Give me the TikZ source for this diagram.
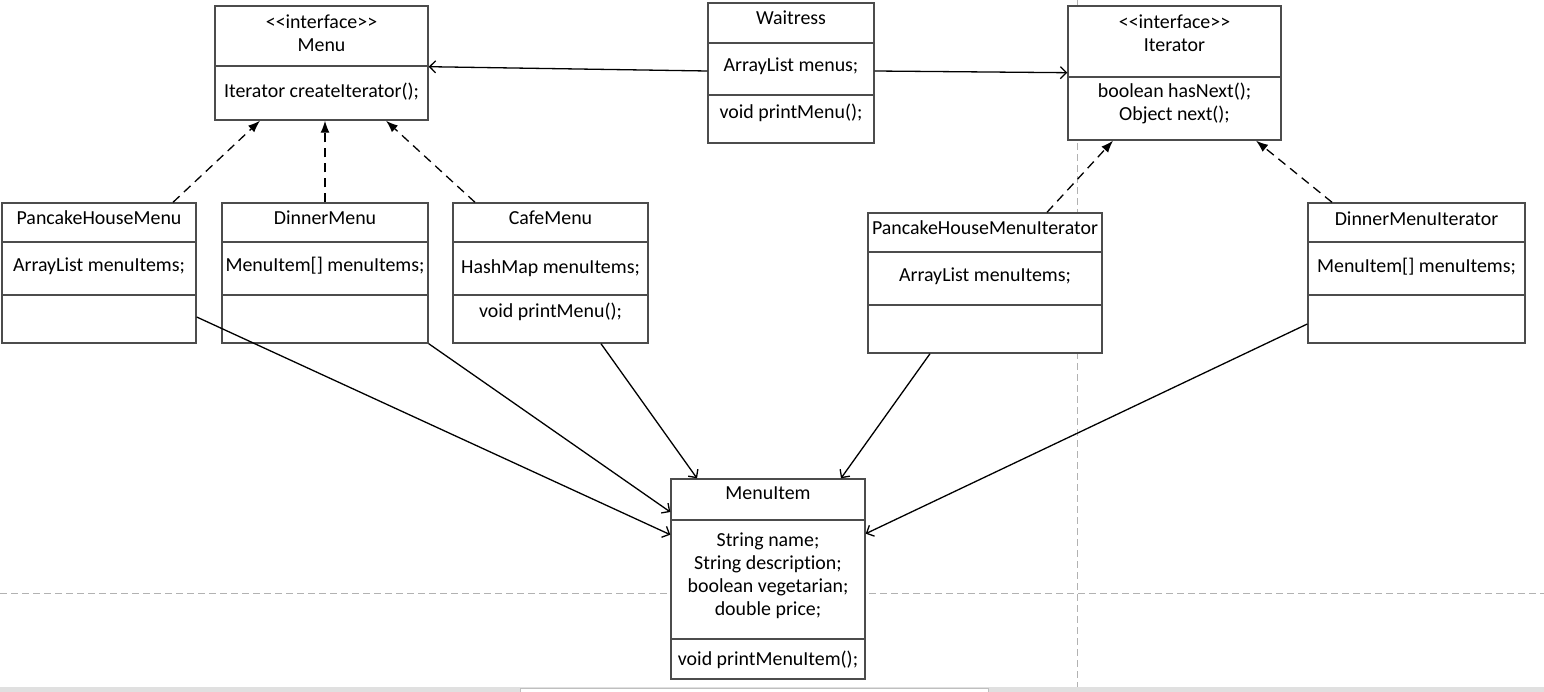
\documentclass[tikz,border=0pt]{standalone}
\usepackage{fontspec}
\setmainfont{Carlito}[Ligatures = NoCommon]
\usetikzlibrary{arrows.meta}

\tikzset{
  cls/.style = {draw = black!70, line width = 1.4pt, fill = white, inner sep = 0pt},
  txt/.style = {inner sep = 0pt, align = center},
  realize/.style = {draw, line width = 1.3pt, dash pattern = on 9pt off 6pt, -{Latex[length = 12pt, width = 9pt]}},
  assoc/.style = {draw, line width = 1.3pt, -{Straight Barb[length = 6pt, width = 12pt]}},
  pagebreak/.style = {draw = black!30, line width = 1pt, dash pattern = on 7pt off 4pt}
}

\begin{document}
\begin{tikzpicture}[x = 1pt, y = -1pt, font = \fontsize{19.9}{23}\selectfont]
\useasboundingbox (0, 0) rectangle (1544, 692);

% page breaks of the drawing sheet
\path [pagebreak] (1077, 0) -- (1077, 687);
\path [pagebreak] (0, 593) -- (1544, 593);
\fill [black!12] (0, 687) rectangle (1544, 692);
\filldraw [fill = white, draw = black!25] (520, 688) rectangle (988, 695);

% Menu
\node [cls, minimum width = 213pt, minimum height = 60pt] (menu0) at (321.5, 36) {};
\node [cls, minimum width = 213pt, minimum height = 54pt] (menu1) at (321.5, 93) {};
\node [txt] (menut0) at (321.5, 33) {<\kern0pt<interface>\kern0pt>\\Menu};
\node [txt] (menut1) at (321.5, 92) {Iterator createIterator();};

% Waitress
\node [cls, minimum width = 166pt, minimum height = 40pt] (wait0) at (791, 23) {};
\node [cls, minimum width = 166pt, minimum height = 52pt] (wait1) at (791, 69) {};
\node [cls, minimum width = 166pt, minimum height = 48pt] (wait2) at (791, 119) {};
\node [txt] (waitt0) at (791, 18) {Waitress};
\node [txt] (waitt1) at (791, 66) {ArrayList menus;};
\node [txt] (waitt2) at (791, 113) {void printMenu();};

% Iterator
\node [cls, minimum width = 213pt, minimum height = 71pt] (iter0) at (1174.5, 41.5) {};
\node [cls, minimum width = 213pt, minimum height = 63pt] (iter1) at (1174.5, 108.5) {};
\node [txt] (itert0) at (1174.5, 33) {<\kern0pt<interface>\kern0pt>\\Iterator};
\node [txt] (itert1) at (1174.5, 103.5) {boolean hasNext();\\Object next();};

% PancakeHouseMenu
\node [cls, minimum width = 194pt, minimum height = 39pt] (phm0) at (99, 222.5) {};
\node [cls, minimum width = 194pt, minimum height = 53pt] (phm1) at (99, 268.5) {};
\node [cls, minimum width = 194pt, minimum height = 48pt] (phm2) at (99, 319) {};
\node [txt] (phmt0) at (99, 218) {PancakeHouseMenu};
\node [txt] (phmt1) at (99, 266) {ArrayList menuItems;};

% DinnerMenu
\node [cls, minimum width = 206pt, minimum height = 39pt] (dm0) at (325, 222.5) {};
\node [cls, minimum width = 206pt, minimum height = 53pt] (dm1) at (325, 268.5) {};
\node [cls, minimum width = 206pt, minimum height = 48pt] (dm2) at (325, 319) {};
\node [txt] (dmt0) at (325, 218) {DinnerMenu};
\node [txt] (dmt1) at (325, 266) {MenuItem[] menuItems;};

% CafeMenu
\node [cls, minimum width = 195pt, minimum height = 39pt] (cafe0) at (550.5, 222.5) {};
\node [cls, minimum width = 195pt, minimum height = 53pt] (cafe1) at (550.5, 268.5) {};
\node [cls, minimum width = 195pt, minimum height = 48pt] (cafe2) at (550.5, 319) {};
\node [txt] (cafet0) at (550.5, 218) {CafeMenu};
\node [txt] (cafet1) at (550.5, 268) {HashMap menuItems;};
\node [txt] (cafet2) at (550.5, 312) {void printMenu();};

% PancakeHouseMenuIterator
\node [cls, minimum width = 234pt, minimum height = 39pt] (phmi0) at (985, 232.5) {};
\node [cls, minimum width = 234pt, minimum height = 53pt] (phmi1) at (985, 278.5) {};
\node [cls, minimum width = 234pt, minimum height = 48pt] (phmi2) at (985, 329) {};
\node [txt] (phmit0) at (985, 228) {PancakeHouseMenuIterator};
\node [txt] (phmit1) at (985, 276) {ArrayList menuItems;};

% DinnerMenuIterator
\node [cls, minimum width = 217pt, minimum height = 39pt] (dmi0) at (1416.5, 222.5) {};
\node [cls, minimum width = 217pt, minimum height = 53pt] (dmi1) at (1416.5, 268.5) {};
\node [cls, minimum width = 217pt, minimum height = 48pt] (dmi2) at (1416.5, 319) {};
\node [txt] (dmit0) at (1416.5, 219) {DinnerMenuIterator};
\node [txt] (dmit1) at (1416.5, 267) {MenuItem[] menuItems;};

% MenuItem
\node [cls, minimum width = 194pt, minimum height = 41pt] (item0) at (768, 499.5) {};
\node [cls, minimum width = 194pt, minimum height = 119pt] (item1) at (768, 579.5) {};
\node [cls, minimum width = 194pt, minimum height = 40pt] (item2) at (768, 659) {};
\node [txt] (itemt0) at (768, 493) {MenuItem};
\node [txt] (itemt1) at (768, 576) {String name;\\String description;\\boolean vegetarian;\\double price;};
\node [txt] (itemt2) at (768, 660) {void printMenuItem();};

% realizations
\path [realize] ([xshift = 74pt] phm0.north) -- ([xshift = -61.5pt] menu1.south);
\path [realize] (dm0.north) -- (dm0.north |- menu1.south);
\path [realize] ([xshift = -75.5pt] cafe0.north) -- ([xshift = 64.5pt] menu1.south);
\path [realize] ([xshift = 62pt] phmi0.north) -- ([xshift = -61.5pt] iter1.south);
\path [realize] ([xshift = -84.5pt] dmi0.north) -- ([xshift = 81.5pt] iter1.south);

% associations
\path [assoc] ([yshift = -2pt] wait1.west) -- (menu0.south east);
\path [assoc] ([yshift = -2pt] wait1.east) -- ([yshift = 5pt] iter0.south west);
\path [assoc] ([yshift = 2pt] phm2.east) -- ([yshift = -14pt] item0.south west);
\path [assoc] (dm2.south east) -- ([yshift = -12.5pt] item0.west);
\path [assoc] ([xshift = 50.5pt] cafe2.south) -- ([xshift = -71pt] item0.north);
\path [assoc] ([xshift = -55pt] phmi2.south) -- ([xshift = 73pt] item0.north);
\path [assoc] ([yshift = -5pt] dmi2.west) -- ([yshift = -13pt] item0.south east);
\end{tikzpicture}
\end{document}
